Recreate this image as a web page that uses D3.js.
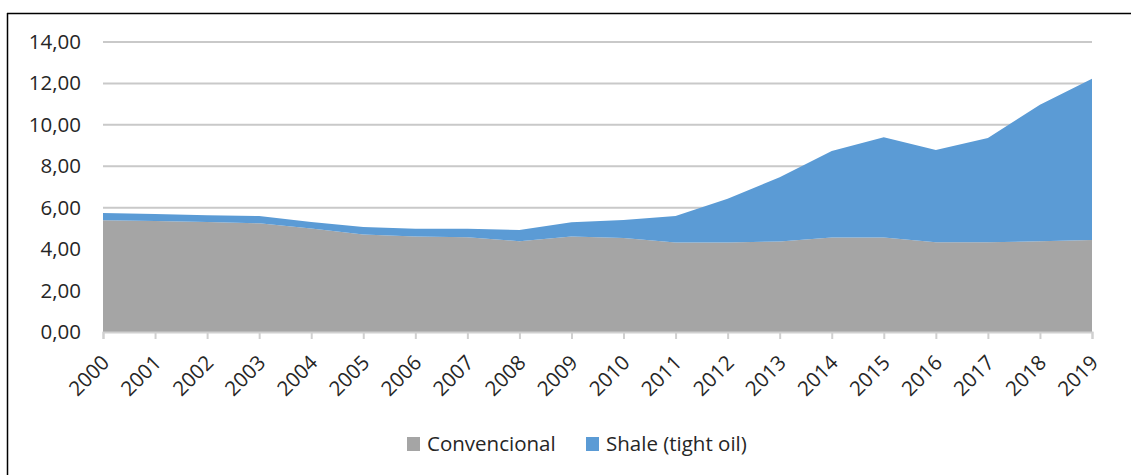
<!DOCTYPE html>
<html>
<head>
<meta charset="utf-8">
<script src="https://cdn.jsdelivr.net/npm/d3@7"></script>
<style>
  body { margin: 0; background: #fff; }
  text { font-family: "Open Sans", sans-serif; fill: #262626; }
</style>
</head>
<body>
<div id="chart"></div>
<script>
// datos (Mb/d aprox.)
var years = ["2000","2001","2002","2003","2004","2005","2006","2007","2008","2009",
             "2010","2011","2012","2013","2014","2015","2016","2017","2018","2019"];
var convencional = [5.40, 5.36, 5.31, 5.25, 5.00, 4.71, 4.61, 4.58, 4.38, 4.61,
                    4.54, 4.32, 4.32, 4.37, 4.56, 4.56, 4.33, 4.33, 4.38, 4.44];
var shale = [0.34, 0.34, 0.33, 0.35, 0.31, 0.36, 0.37, 0.40, 0.55, 0.69,
             0.87, 1.28, 2.11, 3.10, 4.18, 4.84, 4.46, 5.03, 6.59, 7.78];
var yTicks = [0, 2, 4, 6, 8, 10, 12, 14];
var seriesNames = ["Convencional", "Shale (tight oil)"];
var colors = ["#a5a5a5", "#5b9bd5"];

var width = 1131, height = 475;
var margin = { top: 42, right: 39, bottom: 143, left: 103 };
var innerW = width - margin.left - margin.right;
var innerH = height - margin.top - margin.bottom;

var svg = d3.select("#chart").append("svg")
  .attr("width", width)
  .attr("height", height);

// marco
svg.append("line").attr("x1", 7).attr("x2", width).attr("y1", 13.5).attr("y2", 13.5)
  .attr("stroke", "#000").attr("stroke-width", 1.5);
svg.append("line").attr("x1", 7.5).attr("x2", 7.5).attr("y1", 13).attr("y2", height)
  .attr("stroke", "#000").attr("stroke-width", 1.5);

var g = svg.append("g")
  .attr("transform", "translate(" + margin.left + "," + margin.top + ")");

var x = d3.scalePoint().domain(years).range([0, innerW]);
var y = d3.scaleLinear().domain([0, 14]).range([innerH, 0]);

// rejilla
g.selectAll(".grid").data(yTicks.filter(function(d) { return d > 0; }))
  .enter().append("line")
  .attr("x1", 0).attr("x2", innerW)
  .attr("y1", function(d) { return y(d); })
  .attr("y2", function(d) { return y(d); })
  .attr("stroke", "#c9c9c9").attr("stroke-width", 2);

// apilado
var table = years.map(function(yr, i) {
  return { year: yr, conv: convencional[i], shale: shale[i] };
});
var stack = d3.stack().keys(["conv", "shale"])(table);

var area = d3.area()
  .x(function(d) { return x(d.data.year); })
  .y0(function(d) { return y(d[0]); })
  .y1(function(d) { return y(d[1]); });

g.selectAll(".layer").data(stack)
  .enter().append("path")
  .attr("d", area)
  .attr("fill", function(d, i) { return colors[i]; });

// eje X
var xAxis = g.append("g")
  .attr("transform", "translate(0," + innerH + ")")
  .call(d3.axisBottom(x).tickSize(7).tickPadding(6));
xAxis.select(".domain").attr("stroke", "#d0d0d0").attr("stroke-width", 2);
xAxis.selectAll(".tick line").attr("stroke", "#d0d0d0").attr("stroke-width", 2);
xAxis.selectAll(".tick text")
  .style("font-size", "20.5px")
  .attr("text-anchor", "end")
  .attr("dy", "0.35em")
  .attr("transform", "translate(2,27) rotate(-45)")
  .attr("y", 0).attr("x", 0);

// eje Y
var yAxis = g.append("g")
  .call(d3.axisLeft(y).tickValues(yTicks).tickSize(0).tickPadding(22)
    .tickFormat(function(d) { return d3.format(".2f")(d).replace(".", ","); }));
yAxis.select(".domain").remove();
yAxis.selectAll(".tick text").style("font-size", "20.5px");

// leyenda
var legendX = [407, 586];
var legend = svg.selectAll(".legend").data(seriesNames)
  .enter().append("g")
  .attr("transform", function(d, i) { return "translate(" + legendX[i] + ",444)"; });
legend.append("rect")
  .attr("x", 0).attr("y", -7).attr("width", 13).attr("height", 14)
  .attr("fill", function(d, i) { return colors[i]; });
legend.append("text")
  .attr("x", 20).attr("dy", "0.35em")
  .style("font-size", "20.5px")
  .text(function(d) { return d; });
</script>
</body>
</html>
